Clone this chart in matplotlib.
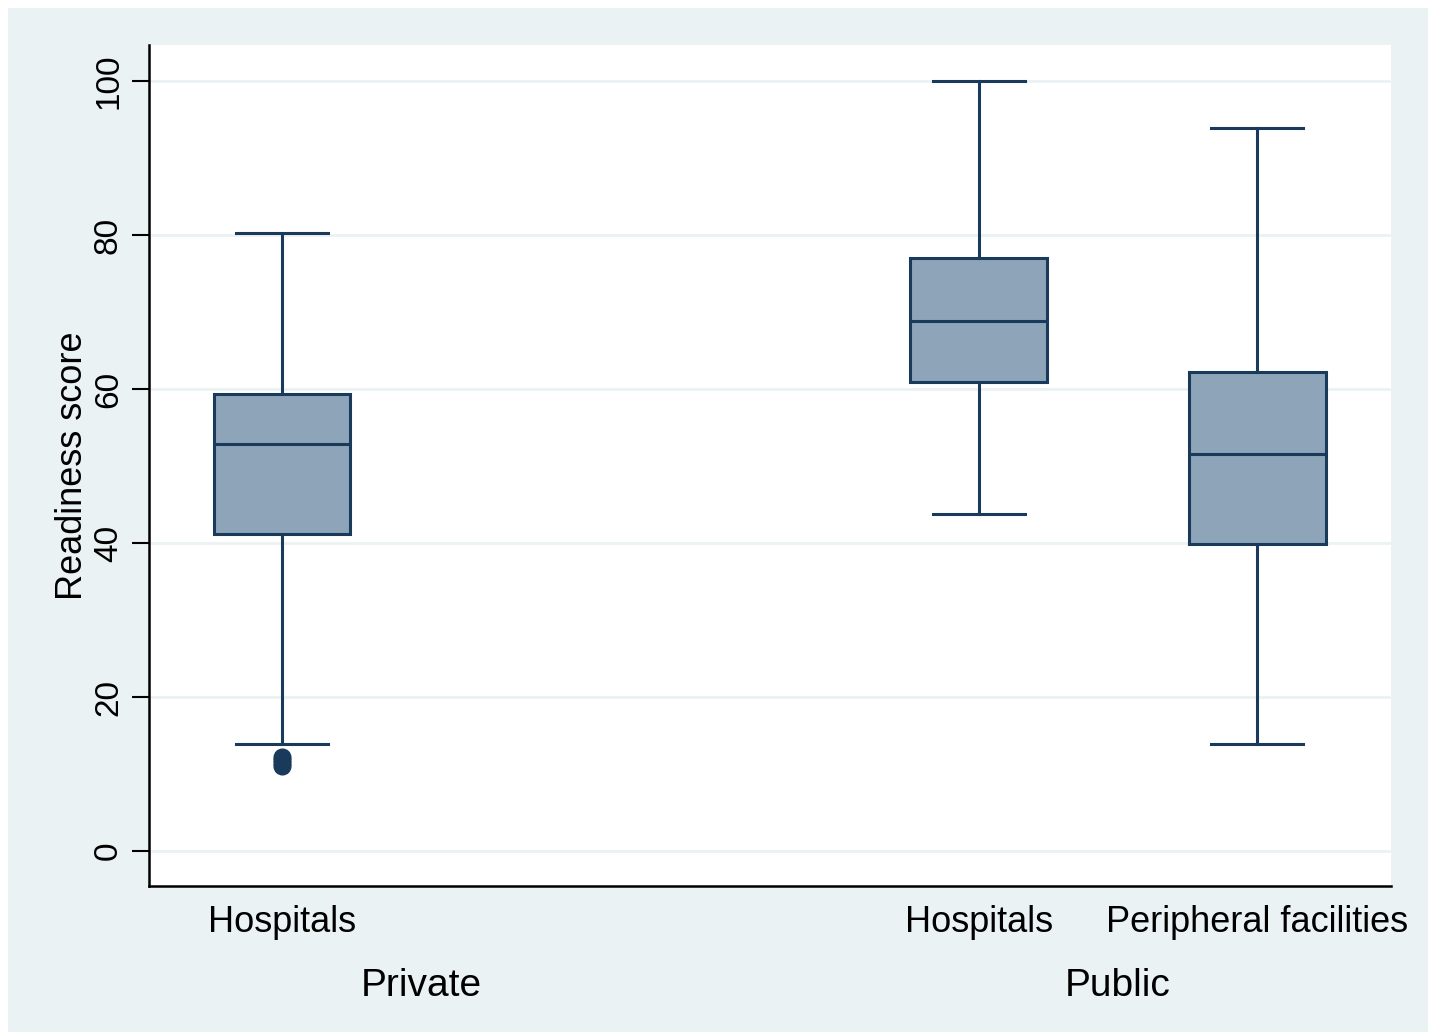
import matplotlib
matplotlib.use("Agg")
import matplotlib.pyplot as plt
from matplotlib.patches import Rectangle

plt.rcParams['font.family'] = ['Liberation Sans', 'DejaVu Sans']

# Data
box_labels = ["Hospitals", "Hospitals", "Peripheral facilities"]
group_labels = ["Private", "Public"]
whislo = [13.9, 43.8, 13.9]
q1 = [41.2, 60.9, 39.9]
med = [52.9, 68.8, 51.6]
q3 = [59.4, 77.0, 62.2]
whishi = [80.3, 100.0, 93.9]
fliers = [[11.0, 11.4, 11.8, 12.2], [], []]
yticks = [0, 20, 40, 60, 80, 100]

positions = [1, 3.5, 4.5]
group_centers = [1.5, 4.0]

fill_c = "#8ea4b8"
edge_c = "#1a3a5c"
bg_c = "#eaf2f3"

fig = plt.figure(figsize=(14.3, 10.35), dpi=100)
fig.patch.set_facecolor("white")
fig.patches.append(Rectangle((8/1430, 3/1035), 1420/1430, 1024/1035,
                             transform=fig.transFigure, facecolor=bg_c,
                             edgecolor="none", zorder=-10))

ax = fig.add_axes([149/1430, 1 - 886/1035, (1391-149)/1430, (886-45)/1035])
ax.set_facecolor("white")

stats = []
for i in range(3):
    stats.append(dict(whislo=whislo[i], q1=q1[i], med=med[i], q3=q3[i],
                      whishi=whishi[i], fliers=fliers[i], label=box_labels[i]))

ax.bxp(stats, positions=positions, widths=0.49, patch_artist=True,
       showfliers=True, capwidths=0.33,
       boxprops=dict(facecolor=fill_c, edgecolor=edge_c, linewidth=2.2),
       medianprops=dict(color=edge_c, linewidth=2.2),
       whiskerprops=dict(color=edge_c, linewidth=2.2),
       capprops=dict(color=edge_c, linewidth=2.2),
       flierprops=dict(marker='o', markerfacecolor=edge_c, markeredgecolor=edge_c,
                       markersize=12, linestyle='none'))

ax.set_xlim(0.523, 4.98)
ax.set_ylim(-4.55, 104.7)
ax.set_yticks(yticks)
ax.set_yticklabels([str(t) for t in yticks], rotation=90, va='center', fontsize=24)
ax.tick_params(axis='y', length=12, width=1.5, pad=6, color='black')
ax.tick_params(axis='x', length=0, labelsize=26, pad=14)
ax.set_xticks(positions)
ax.set_xticklabels(box_labels)
ax.yaxis.grid(True, color=bg_c, linewidth=2)
ax.set_axisbelow(True)

for s in ["top", "right"]:
    ax.spines[s].set_visible(False)
for s in ["left", "bottom"]:
    ax.spines[s].set_linewidth(1.8)
    ax.spines[s].set_color("black")

ax.set_ylabel("Readiness score", fontsize=26, labelpad=2)

for c, g in zip(group_centers, group_labels):
    ax.text(c, -0.1185, g, transform=ax.get_xaxis_transform(), ha='center',
            va='center', fontsize=28)

fig.savefig("out.png", dpi=100, facecolor=fig.get_facecolor())
